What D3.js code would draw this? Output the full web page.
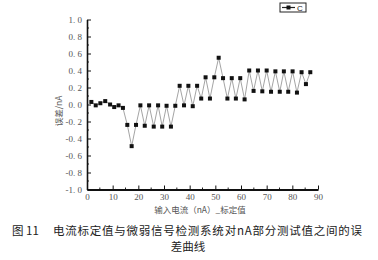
<!DOCTYPE html>
<html>
<head>
<meta charset="utf-8">
<script src="https://cdn.jsdelivr.net/npm/d3@7"></script>
<style>
  body { margin: 0; background: #fff; }
  svg { display: block; }
  .tick text { font-family: "Liberation Serif", "DejaVu Serif", serif; fill: #555; }
</style>
</head>
<body>
<svg id="chart"></svg>
<script>
// input current (nA, calibrated) and measured error (nA)
const inputCurrent = [
  1.7, 3.4, 5.2, 7.1, 9.0, 10.6, 12.3, 14.0, 15.7, 17.4,
  19.1, 20.8, 22.5, 24.2, 26.0, 27.7, 29.3, 31.0, 32.7, 34.4,
  36.1, 37.8, 39.5, 41.2, 42.9, 44.5, 46.2, 47.9, 49.6, 51.3,
  53.0, 54.7, 56.4, 58.0, 59.7, 61.4, 63.2, 64.9, 66.6, 68.3,
  70.0, 71.7, 73.4, 75.1, 76.7, 78.4, 80.1, 81.8, 83.6, 85.3, 87.0
];
const errorC = [
  0.03, -0.01, 0.015, 0.04, 0.0, -0.03, -0.01, -0.04, -0.24, -0.49,
  -0.24, -0.01, -0.25, -0.01, -0.26, -0.01, -0.26, -0.015, -0.26, -0.015,
  0.22, -0.01, 0.22, -0.02, 0.22, 0.07, 0.32, 0.07, 0.32, 0.55,
  0.31, 0.07, 0.31, 0.07, 0.31, 0.06, 0.40, 0.16, 0.40, 0.155,
  0.40, 0.15, 0.39, 0.15, 0.39, 0.15, 0.39, 0.14, 0.38, 0.24, 0.38
];
const yTicks = [-1.0, -0.8, -0.6, -0.4, -0.2, 0.0, 0.2, 0.4, 0.6, 0.8, 1.0];
const xTicks = [0, 10, 20, 30, 40, 50, 60, 70, 80, 90];
const seriesName = "C";
const xTitle = "输入电流（nA）_标定值";
const yTitle = "误差/nA";
const captionNo = "图 11";
const captionLine1 = "电流标定值与微弱信号检测系统对nA部分测试值之间的误";
const captionLine2 = "差曲线";

const W = 378, H = 260;
const plot = { left: 87, right: 318, top: 19.5, bottom: 189.5 };

const svg = d3.select("#chart").attr("width", W).attr("height", H);

const x = d3.scaleLinear().domain([0, 90]).range([plot.left, plot.right]);
const y = d3.scaleLinear().domain([-1, 1]).range([plot.bottom, plot.top]);

// minor ticks (inside)
const minor = svg.append("g").attr("stroke", "#222").attr("stroke-width", 1);
d3.range(5, 90, 10).forEach(v => {
  minor.append("line").attr("x1", x(v)).attr("x2", x(v))
    .attr("y1", plot.bottom).attr("y2", plot.bottom - 2);
});
d3.range(-0.9, 1.0, 0.2).forEach(v => {
  minor.append("line").attr("x1", plot.left).attr("x2", plot.left + 2)
    .attr("y1", y(v)).attr("y2", y(v));
});

// axes
const yAxis = d3.axisLeft(y)
  .tickValues(yTicks)
  .tickSizeInner(-4)
  .tickSizeOuter(0)
  .tickPadding(5)
  .tickFormat(d => d3.format(".1f")(d).replace("−", "-").replace(".", ". "));

svg.append("g")
  .attr("transform", `translate(${plot.left},0)`)
  .call(yAxis)
  .call(g => g.select(".domain").attr("stroke", "#111").attr("stroke-width", 1.6))
  .call(g => g.selectAll(".tick line").attr("stroke", "#111"))
  .call(g => g.selectAll(".tick text").attr("font-size", 9).style("white-space", "pre"));

const xAxis = d3.axisBottom(x)
  .tickValues(xTicks)
  .tickSizeInner(-4)
  .tickSizeOuter(0)
  .tickPadding(4)
  .tickFormat(d3.format("d"));

svg.append("g")
  .attr("transform", `translate(0,${plot.bottom})`)
  .call(xAxis)
  .call(g => g.select(".domain").attr("stroke", "#111").attr("stroke-width", 1.8))
  .call(g => g.selectAll(".tick line").attr("stroke", "#111"))
  .call(g => g.selectAll(".tick text").attr("font-size", 9));

// data
const data = inputCurrent.map((v, i) => ({ x: v, y: errorC[i] }));

svg.append("path")
  .datum(data)
  .attr("fill", "none")
  .attr("stroke", "#9a9a9a")
  .attr("stroke-width", 0.9)
  .attr("d", d3.line().x(d => x(d.x)).y(d => y(d.y)));

const m = 4;
svg.append("g")
  .selectAll("rect")
  .data(data)
  .enter()
  .append("rect")
  .attr("x", d => x(d.x) - m / 2)
  .attr("y", d => y(d.y) - m / 2)
  .attr("width", m)
  .attr("height", m)
  .attr("fill", "#111");

// legend
const legend = svg.append("g").attr("transform", "translate(280,3)");
legend.append("rect")
  .attr("width", 26).attr("height", 9)
  .attr("fill", "#fff").attr("stroke", "#222").attr("stroke-width", 1);
legend.append("line")
  .attr("x1", 2).attr("x2", 15).attr("y1", 4.5).attr("y2", 4.5)
  .attr("stroke", "#222").attr("stroke-width", 1.2);
legend.append("rect")
  .attr("x", 6.5).attr("y", 2.5).attr("width", 4).attr("height", 4).attr("fill", "#111");
legend.append("text")
  .attr("x", 17).attr("y", 8)
  .attr("font-family", "Liberation Sans, sans-serif")
  .attr("font-size", 8).attr("fill", "#222")
  .text(seriesName);

// axis titles
svg.append("text")
  .attr("transform", `translate(62,111) rotate(-90)`)
  .attr("text-anchor", "middle")
  .attr("font-family", "Noto Sans CJK SC, sans-serif")
  .attr("font-size", 8.5).attr("fill", "#555")
  .text(yTitle);

svg.append("text")
  .attr("x", 200).attr("y", 213)
  .attr("text-anchor", "middle")
  .attr("font-family", "Noto Sans CJK SC, sans-serif")
  .attr("font-size", 8.5).attr("fill", "#555")
  .text(xTitle);

// caption
const cap = svg.append("g")
  .attr("font-family", "Noto Sans CJK SC, sans-serif")
  .attr("font-size", 11.5).attr("fill", "#222");
cap.append("text").attr("x", 12).attr("y", 235).text(captionNo);
cap.append("text").attr("x", 53).attr("y", 235)
  .attr("textLength", 309).attr("lengthAdjust", "spacing")
  .text(captionLine1);
cap.append("text").attr("x", 188).attr("y", 251)
  .attr("text-anchor", "middle").text(captionLine2);
</script>
</body>
</html>
